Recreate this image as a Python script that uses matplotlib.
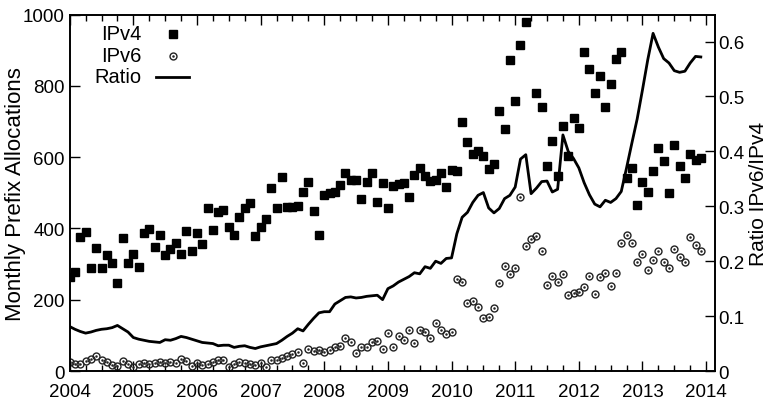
import numpy as np
import matplotlib
matplotlib.use("Agg")
import matplotlib.pyplot as plt

plt.rcParams['font.family'] = ['Liberation Sans', 'DejaVu Sans']

start_year = 2004
n_months = 120

ipv4 = [263, 279, 375, 389, 288, 344, 288, 326, 303, 247, 374, 303,
        328, 292, 386, 399, 347, 382, 326, 342, 359, 328, 394, 338,
        386, 356, 458, 396, 445, 452, 405, 382, 431, 458, 472, 378,
        405, 427, 513, 457, 544, 459, 459, 462, 502, 531, 449, 383,
        494, 500, 503, 523, 556, 535, 535, 484, 530, 555, 474, 528,
        457, 519, 524, 528, 489, 551, 571, 548, 532, 536, 555, 517,
        564, 562, 700, 642, 609, 617, 603, 566, 582, 730, 679, 872,
        757, 915, 979, np.nan, 781, 742, 575, 646, 548, 688, 604, 710,
        681, 894, 848, 779, 829, 741, 806, 876, 896, 541, 571, 466,
        531, 503, 561, 627, 590, 499, 633, 575, 541, 608, 593, 597]

ipv6 = [25, 20, 20, 27, 34, 41, 31, 25, 18, 15, 27, 20,
        12, 20, 22, 20, 22, 25, 22, 25, 22, 33, 28, 15,
        22, 18, 20, 24, 30, 30, 10, 20, 25, 22, 20, 18,
        22, 10, 30, 32, 37, 43, 48, 53, 22, 62, 57, 60,
        52, 60, 66, 71, 92, 82, 50, 66, 66, 82, 84, 62,
        106, 66, 99, 86, 115, 80, 115, 110, 93, 135, 115, 104,
        110, 258, 249, 190, 197, 179, 148, 151, 176, 247, 296, 272,
        288, 488, 352, 370, 380, 338, 241, 266, 249, 272, 213, 218,
        223, 237, 266, 216, 265, 275, 238, 275, 358, 382, 358, 305,
        328, 283, 312, 336, 305, 288, 342, 321, 305, 377, 354, 336]

ratio = [0.081, 0.076, 0.072, 0.069, 0.071, 0.074, 0.076, 0.077, 0.079, 0.083, 0.077, 0.071,
         0.061, 0.058, 0.056, 0.054, 0.053, 0.052, 0.057, 0.056, 0.059, 0.063, 0.061, 0.058,
         0.055, 0.052, 0.051, 0.050, 0.046, 0.047, 0.047, 0.043, 0.045, 0.046, 0.043, 0.041,
         0.044, 0.046, 0.048, 0.050, 0.056, 0.063, 0.069, 0.077, 0.073, 0.085, 0.096, 0.106,
         0.108, 0.108, 0.122, 0.128, 0.134, 0.135, 0.133, 0.134, 0.136, 0.137, 0.138, 0.130,
         0.150, 0.155, 0.162, 0.167, 0.172, 0.179, 0.177, 0.190, 0.187, 0.200, 0.196, 0.205,
         0.206, 0.250, 0.280, 0.289, 0.307, 0.320, 0.325, 0.297, 0.288, 0.296, 0.314, 0.320,
         0.335, 0.386, 0.394, 0.323, 0.333, 0.345, 0.346, 0.326, 0.331, 0.430, 0.400, 0.387,
         0.370, 0.343, 0.321, 0.304, 0.299, 0.311, 0.307, 0.314, 0.327, 0.370, 0.415, 0.459,
         0.512, 0.567, 0.615, 0.590, 0.569, 0.561, 0.547, 0.544, 0.546, 0.561, 0.573, 0.572]

year_ticks = list(range(2004, 2015))
left_ticks = [0, 200, 400, 600, 800, 1000]
right_ticks = [0, 0.1, 0.2, 0.3, 0.4, 0.5, 0.6]

t = start_year + np.arange(n_months) / 12.0

fig = plt.figure(figsize=(7.7, 4.02), dpi=100)
ax = fig.add_axes([0.0905, 0.0746, 0.8381, 0.8864])
ax2 = ax.twinx()

ax.plot(t, ipv4, linestyle='none', marker='s', markersize=5.8, color='black')
ax.plot(t, ipv6, linestyle='none', marker='o', markersize=5.0,
        markerfacecolor='none', markeredgecolor='#222222', markeredgewidth=1.0)
ax.plot(t, ipv6, linestyle='none', marker='.', markersize=1.6, color='#222222')
ax2.plot(t, ratio, color='black', linewidth=2.0)

ax.set_xlim(2004, 2014.14)
ax.set_ylim(0, 1000)
ax2.set_ylim(0, 0.649)
ax.set_xticks(year_ticks)
ax.set_xticks(np.arange(2004, 2014.01, 0.25), minor=True)
ax.set_yticks(left_ticks)
ax2.set_yticks(right_ticks)
ax2.set_yticklabels(['0', '0.1', '0.2', '0.3', '0.4', '0.5', '0.6'])

fs = 13.5
ax.tick_params(axis='x', which='major', direction='in', top=True, length=7, width=1, labelsize=fs, pad=8.5)
ax.tick_params(axis='x', which='minor', direction='in', top=True, length=4, width=1)
ax.tick_params(axis='y', which='major', direction='in', length=7, width=1, labelsize=fs, pad=3.5)
ax2.tick_params(axis='y', which='major', direction='in', length=7, width=1, labelsize=fs, pad=2.5)
for a in (ax, ax2):
    for s in a.spines.values():
        s.set_linewidth(1.2)

ax.set_ylabel('Monthly Prefix Allocations', fontsize=16)
ax2.set_ylabel('Ratio IPv6/IPv4', fontsize=15)
ax.yaxis.set_label_coords(-0.068, 0.5)
ax2.yaxis.set_label_coords(1.052, 0.5)

# manual legend (labels right-aligned, keys to the right)
lx = 0.111
kx = 0.16
rows = [0.946, 0.885, 0.826]
lfs = 14.5
ax.text(lx, rows[0], 'IPv4', transform=ax.transAxes, ha='right', va='center', fontsize=lfs)
ax.text(lx, rows[1], 'IPv6', transform=ax.transAxes, ha='right', va='center', fontsize=lfs)
ax.text(lx, rows[2], 'Ratio', transform=ax.transAxes, ha='right', va='center', fontsize=lfs)
ax.plot([kx], [rows[0]], transform=ax.transAxes, marker='s', markersize=5.8, color='black', clip_on=False)
ax.plot([kx], [rows[1]], transform=ax.transAxes, marker='o', markersize=5.0,
        markerfacecolor='none', markeredgecolor='#222222', markeredgewidth=1.0, clip_on=False)
ax.plot([kx], [rows[1]], transform=ax.transAxes, marker='.', markersize=1.6, color='#222222', clip_on=False)
ax.plot([kx - 0.027, kx + 0.025], [rows[2], rows[2]], transform=ax.transAxes, color='black', linewidth=2.0)

fig.savefig('out.png', dpi=100)
